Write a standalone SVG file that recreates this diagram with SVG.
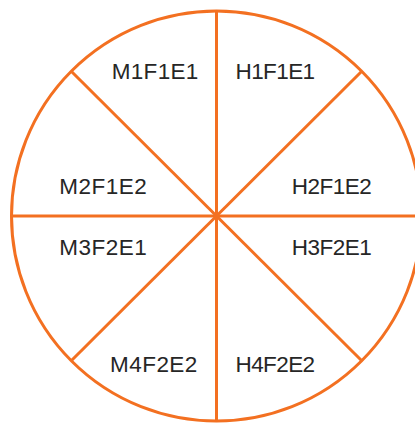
<svg xmlns="http://www.w3.org/2000/svg" width="415" height="423" viewBox="0 0 415 423">
<style>
.ln{stroke:#F37021;stroke-width:3;fill:none}
.t{font-family:"Liberation Sans",Arial,sans-serif;font-size:22.5px;fill:#262626;text-anchor:middle}
</style>
<rect width="415" height="423" fill="#fff"/>
<g id="connectors">
<circle class="ln" cx="216.5" cy="216" r="205"/>
<line class="ln" x1="216.5" y1="11" x2="216.5" y2="421"/>
<line class="ln" x1="11" y1="216" x2="422" y2="216"/>
<line class="ln" x1="71.5" y1="71.5" x2="361.5" y2="360.5"/>
<line class="ln" x1="361.5" y1="71.5" x2="71.5" y2="360.5"/>
</g>
<g id="M1F1E1"><text class="t" x="155" y="79" textLength="86.5">M1F1E1</text></g>
<g id="H1F1E1"><text class="t" x="275.3" y="79" textLength="79.5">H1F1E1</text></g>
<g id="M2F1E2"><text class="t" x="103" y="194" textLength="87.5">M2F1E2</text></g>
<g id="H2F1E2"><text class="t" x="331.7" y="194" textLength="80">H2F1E2</text></g>
<g id="M3F2E1"><text class="t" x="103" y="255" textLength="87.5">M3F2E1</text></g>
<g id="H3F2E1"><text class="t" x="331.7" y="255" textLength="80">H3F2E1</text></g>
<g id="M4F2E2"><text class="t" x="153.7" y="371.7" textLength="87.3">M4F2E2</text></g>
<g id="H4F2E2"><text class="t" x="275.3" y="371.7" textLength="79.5">H4F2E2</text></g>
</svg>
